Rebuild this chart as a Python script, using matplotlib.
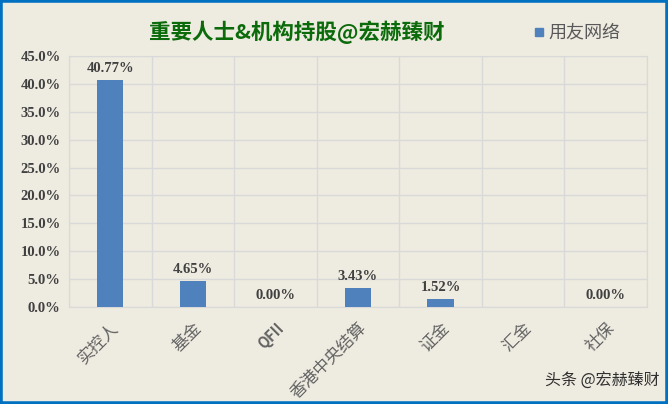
import matplotlib.pyplot as plt
from matplotlib.patches import Rectangle
import numpy as np

categories = ['实控人', '基金', 'QFII', '香港中央结算', '证金', '汇金', '社保']
values = [40.77, 4.65, 0.00, 3.43, 1.52, np.nan, 0.00]
yticks = [0, 5, 10, 15, 20, 25, 30, 35, 40, 45]

bg = '#EEEBE0'
bar_color = '#4F81BD'
cjk = ['Noto Sans CJK SC', 'DejaVu Sans']

fig = plt.figure(figsize=(6.68, 4.04), dpi=100, facecolor=bg)
ax = fig.add_axes([69 / 668, 1 - 307 / 404, (647 - 69) / 668, (307 - 56) / 404])
ax.set_facecolor(bg)

x = np.arange(len(categories))
ax.bar(x, values, width=0.32, color=bar_color, zorder=3)

for xi, v in zip(x, values):
    if np.isnan(v):
        continue
    ax.text(xi, v + 0.9, '%.2f%%' % v, ha='center', va='bottom',
            family='Liberation Serif', fontweight='bold', fontsize=10.5, color='#404040')

ax.set_xlim(-0.5, len(categories) - 0.5)
ax.set_ylim(0, 45)
ax.set_yticks(yticks)
ax.set_yticklabels(['%.1f%%' % t for t in yticks], family='Liberation Serif',
                   fontweight='bold', fontsize=10.5, color='#404040')
ax.set_xticks(x)
ax.set_xticklabels(categories, rotation=45, ha='right', rotation_mode='anchor',
                   family=cjk, fontsize=12, color='#636363')
for lab in ax.get_xticklabels():
    if lab.get_text() == 'QFII':
        lab.set_fontweight('bold')
        lab.set_fontsize(10.5)
ax.tick_params(length=0, pad=6)
ax.tick_params(axis='x', pad=9)

ax.set_xticks(np.arange(-0.5, len(categories)), minor=True)
ax.tick_params(which='minor', length=0)
ax.grid(True, axis='y', which='major', color='#D9D9D9', lw=1, zorder=0)
ax.grid(True, axis='x', which='minor', color='#D9D9D9', lw=1, zorder=0)
for s in ax.spines.values():
    s.set_color('#D9D9D9')

fig.text(297 / 668, 1 - 32 / 404, '重要人士&机构持股@宏赫臻财', ha='center', va='center',
         family=cjk, fontsize=15.5, fontweight='bold', color='#0B6B0B')
fig.patches.append(Rectangle((535 / 668, 1 - 36 / 404), 8 / 668, 8 / 404,
                             transform=fig.transFigure, color=bar_color))
fig.text(548 / 668, 1 - 32 / 404, '用友网络', ha='left', va='center',
         family=cjk, fontsize=13, color='#595959')
fig.text(1 - 8 / 668, 1 - 381 / 404, '头条 @宏赫臻财', ha='right', va='center',
         family=cjk, fontsize=11.5, color='#303030')

fig.patches.append(Rectangle((0, 0), 1, 1, transform=fig.transFigure,
                             fill=False, edgecolor='#0070C0', lw=4))

fig.savefig('out.png', dpi=100, facecolor=bg)
